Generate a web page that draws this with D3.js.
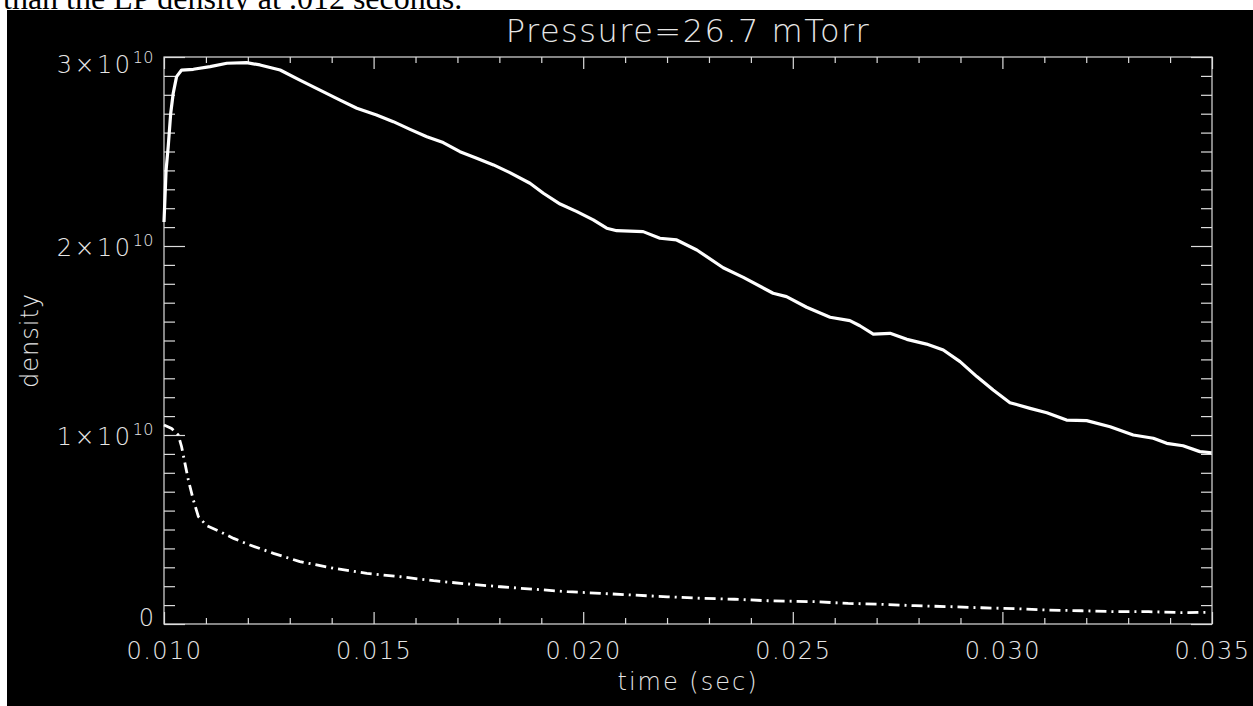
<!DOCTYPE html>
<html>
<head>
<meta charset="utf-8">
<script src="https://cdn.jsdelivr.net/npm/d3@7"></script>
<style>
  html, body { margin: 0; padding: 0; background: #fff; }
  svg { display: block; }
  .lbl { font-family: "DejaVu Sans", sans-serif; font-weight: 200; fill: #e6e6e6; }
</style>
</head>
<body>
<svg id="chart" width="1253" height="706"></svg>
<script>
// ---------- data ----------
const chartTitle = "Pressure=26.7 mTorr";
const xLabel = "time (sec)";
const yLabel = "density";
const captionText = "than the LP density at .012 seconds.";

const xMajorTicks = [0.010, 0.015, 0.020, 0.025, 0.030, 0.035];
const xTickLabels = ["0.010", "0.015", "0.020", "0.025", "0.030", "0.035"];
const yMajorTicks = [0, 1e10, 2e10, 3e10];
const yTickMantissa = ["0", "1", "2", "3"];

// solid curve (time in s, density)
const solidTime = [0.01000, 0.01005, 0.01010, 0.01016, 0.01022, 0.01030, 0.01042, 0.01070, 0.01110, 0.01150,
  0.01197, 0.01229, 0.01277, 0.01324, 0.01372, 0.01420, 0.01460, 0.01507, 0.01547, 0.01587,
  0.01627, 0.01666, 0.01706, 0.01746, 0.01786, 0.01825, 0.01873, 0.01905, 0.01945, 0.01985,
  0.02024, 0.02056, 0.02080, 0.02143, 0.02183, 0.02223, 0.02271, 0.02334, 0.02382, 0.02453,
  0.02485, 0.02533, 0.02589, 0.02636, 0.02660, 0.02692, 0.02732, 0.02772, 0.02819, 0.02859,
  0.02899, 0.02939, 0.02978, 0.03018, 0.03066, 0.03106, 0.03153, 0.03201, 0.03257, 0.03312,
  0.03360, 0.03392, 0.03431, 0.03471, 0.03499];
const solidDensity = [2.127e10, 2.402e10, 2.525e10, 2.702e10, 2.808e10, 2.896e10, 2.931e10, 2.935e10, 2.949e10, 2.967e10,
  2.970e10, 2.958e10, 2.931e10, 2.878e10, 2.825e10, 2.772e10, 2.729e10, 2.693e10, 2.658e10, 2.617e10,
  2.578e10, 2.547e10, 2.499e10, 2.464e10, 2.429e10, 2.388e10, 2.332e10, 2.279e10, 2.222e10, 2.182e10,
  2.138e10, 2.094e10, 2.081e10, 2.076e10, 2.041e10, 2.032e10, 1.979e10, 1.885e10, 1.834e10, 1.750e10,
  1.732e10, 1.676e10, 1.623e10, 1.605e10, 1.578e10, 1.534e10, 1.538e10, 1.506e10, 1.481e10, 1.450e10,
  1.388e10, 1.309e10, 1.238e10, 1.171e10, 1.141e10, 1.118e10, 1.079e10, 1.076e10, 1.044e10, 1.000e10,
  0.983e10, 0.956e10, 0.943e10, 0.912e10, 0.906e10];

// dash-dot curve
const dashTime = [0.01000, 0.01018, 0.01034, 0.01042, 0.01050, 0.01058, 0.01070, 0.01082, 0.01102, 0.01134,
  0.01166, 0.01205, 0.01261, 0.01324, 0.01404, 0.01484, 0.01564, 0.01643, 0.01723, 0.01803,
  0.01882, 0.01962, 0.02042, 0.02121, 0.02201, 0.02281, 0.02361, 0.02440, 0.02552, 0.02632,
  0.02711, 0.02791, 0.02870, 0.02950, 0.03030, 0.03110, 0.03189, 0.03269, 0.03349, 0.03429, 0.03490];
const dashDensity = [1.053e10, 1.035e10, 1.000e10, 0.938e10, 0.850e10, 0.762e10, 0.656e10, 0.568e10, 0.520e10, 0.488e10,
  0.453e10, 0.418e10, 0.374e10, 0.330e10, 0.295e10, 0.268e10, 0.250e10, 0.229e10, 0.212e10, 0.197e10,
  0.184e10, 0.171e10, 0.162e10, 0.153e10, 0.144e10, 0.136e10, 0.131e10, 0.123e10, 0.118e10, 0.109e10,
  0.104e10, 0.097e10, 0.092e10, 0.086e10, 0.081e10, 0.074e10, 0.070e10, 0.065e10, 0.065e10, 0.060e10, 0.062e10];

// ---------- layout ----------
const W = 1253, H = 706;
const plot = { left: 164, right: 1212, top: 57, bottom: 624 };

const svg = d3.select("#chart");

// caption text cut by the black panel
svg.append("rect").attr("x", 0).attr("y", 0).attr("width", W).attr("height", H).attr("fill", "#fff");
svg.append("text")
  .attr("x", 3).attr("y", 9)
  .attr("font-family", "'Liberation Serif', 'Times New Roman', serif")
  .attr("font-size", 32)
  .attr("fill", "#000")
  .text(captionText);
svg.append("rect").attr("x", 7).attr("y", 10).attr("width", W - 7).attr("height", H - 10).attr("fill", "#000");

const x = d3.scaleLinear().domain([0.010, 0.035]).range([plot.left, plot.right]);
const y = d3.scaleLinear().domain([0, 3e10]).range([plot.bottom, plot.top]);

const xMinor = d3.range(10, 36).map(v => v / 1000).filter(v => !xMajorTicks.some(m => Math.abs(m - v) < 1e-9));
const yMinor = d3.range(0, 31).map(v => v * 1e9).filter(v => v % 1e10 !== 0);

const axisColor = "#dcdcdc";
function styleAxis(g) {
  g.select(".domain").remove();
  g.selectAll(".tick line").attr("stroke", axisColor).attr("stroke-width", 1.2);
}

// bottom axis
const gB = svg.append("g").attr("transform", `translate(0,${plot.bottom})`)
  .call(d3.axisBottom(x).tickValues(xMajorTicks).tickSize(-12).tickPadding(18)
    .tickFormat((d, i) => xTickLabels[i]));
styleAxis(gB);
gB.selectAll(".tick text").attr("class", "lbl").attr("font-size", 24).attr("letter-spacing", "1.5px")
  .attr("fill", "#e6e6e6");
svg.append("g").attr("transform", `translate(0,${plot.bottom})`)
  .call(d3.axisBottom(x).tickValues(xMinor).tickSize(-6).tickFormat("")).call(styleAxis);

// top axis
svg.append("g").attr("transform", `translate(0,${plot.top})`)
  .call(d3.axisTop(x).tickValues(xMajorTicks).tickSize(-12).tickFormat("")).call(styleAxis);
svg.append("g").attr("transform", `translate(0,${plot.top})`)
  .call(d3.axisTop(x).tickValues(xMinor).tickSize(-6).tickFormat("")).call(styleAxis);

// left axis
const gL = svg.append("g").attr("transform", `translate(${plot.left},0)`)
  .call(d3.axisLeft(y).tickValues(yMajorTicks).tickSize(-21).tickPadding(10).tickFormat(""));
styleAxis(gL);
gL.selectAll(".tick text").each(function (d, i) {
  const t = d3.select(this).attr("class", "lbl").attr("font-size", 24).attr("fill", "#e6e6e6")
    .attr("dy", d === 3e10 ? "15px" : (d === 0 ? "1px" : "9px"));
  if (d === 0) {
    t.text(yTickMantissa[i]);
  } else {
    t.append("tspan").attr("letter-spacing", "2.5px").text(yTickMantissa[i] + "\u00d710");
    t.append("tspan").attr("font-size", 16).attr("dy", "-10px").attr("letter-spacing", "0.5px").text("10");
  }
});
svg.append("g").attr("transform", `translate(${plot.left},0)`)
  .call(d3.axisLeft(y).tickValues(yMinor).tickSize(-11).tickFormat("")).call(styleAxis);

// right axis
svg.append("g").attr("transform", `translate(${plot.right},0)`)
  .call(d3.axisRight(y).tickValues(yMajorTicks).tickSize(-21).tickFormat("")).call(styleAxis);
svg.append("g").attr("transform", `translate(${plot.right},0)`)
  .call(d3.axisRight(y).tickValues(yMinor).tickSize(-11).tickFormat("")).call(styleAxis);

// frame
svg.append("rect")
  .attr("x", plot.left).attr("y", plot.top)
  .attr("width", plot.right - plot.left).attr("height", plot.bottom - plot.top)
  .attr("fill", "none").attr("stroke", axisColor).attr("stroke-width", 1.2);

// curves
const line = d3.line().x(d => x(d[0])).y(d => y(d[1]));
svg.append("path")
  .datum(solidTime.map((t, i) => [t, solidDensity[i]]))
  .attr("d", line).attr("fill", "none").attr("stroke", "#fff").attr("stroke-width", 3.2)
  .attr("stroke-linejoin", "round");
svg.append("path")
  .datum(dashTime.map((t, i) => [t, dashDensity[i]]))
  .attr("d", line).attr("fill", "none").attr("stroke", "#fff").attr("stroke-width", 2.8)
  .attr("stroke-dasharray", "11,5,2,5");

// title & axis titles
svg.append("text").attr("class", "lbl")
  .attr("x", (plot.left + plot.right) / 2).attr("y", 42)
  .attr("text-anchor", "middle").attr("font-size", 32).attr("letter-spacing", "1.5px")
  .text(chartTitle);
svg.append("text").attr("class", "lbl")
  .attr("x", (plot.left + plot.right) / 2).attr("y", 690)
  .attr("text-anchor", "middle").attr("font-size", 24).attr("letter-spacing", "2px")
  .text(xLabel);
svg.append("text").attr("class", "lbl")
  .attr("transform", `translate(38,${(plot.top + plot.bottom) / 2}) rotate(-90)`)
  .attr("text-anchor", "middle").attr("font-size", 24).attr("letter-spacing", "1px")
  .text(yLabel);
</script>
</body>
</html>
